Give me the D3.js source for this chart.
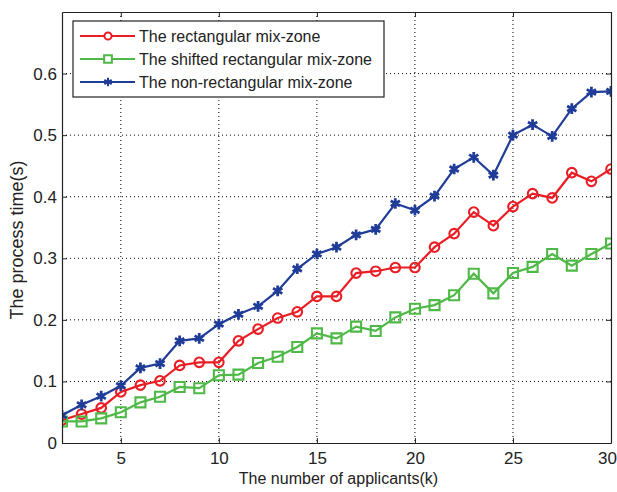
<!DOCTYPE html>
<html>
<head>
<meta charset="utf-8">
<script src="https://cdn.jsdelivr.net/npm/d3@7"></script>
<style>
  body { margin: 0; background: #fff; }
  svg { display: block; font-family: Arial, "Liberation Sans", sans-serif; }
</style>
</head>
<body>
<svg id="chart" width="617" height="492"></svg>
<script>
// number of applicants (k), first point sits left of the visible axis
var applicants = [1, 2, 3, 4, 5, 6, 7, 8, 9, 10, 11, 12, 13, 14, 15, 16, 17, 18, 19, 20, 21, 22, 23, 24, 25, 26, 27, 28, 29, 30];

var rect_zone = [0.027, 0.037, 0.047, 0.057, 0.083, 0.094, 0.101, 0.126, 0.131, 0.131, 0.166, 0.185, 0.203, 0.213, 0.238, 0.238, 0.276, 0.279, 0.285, 0.285,
                 0.318, 0.340, 0.375, 0.353, 0.384, 0.405, 0.398, 0.439, 0.425, 0.445];
var shifted_zone = [0.035, 0.035, 0.035, 0.040, 0.050, 0.066, 0.075, 0.091, 0.089, 0.110, 0.111, 0.130, 0.140, 0.156, 0.178, 0.170, 0.189, 0.182, 0.204, 0.218,
                    0.224, 0.240, 0.275, 0.243, 0.276, 0.286, 0.307, 0.288, 0.307, 0.324];
var nonrect_zone = [0.028, 0.045, 0.062, 0.076, 0.093, 0.122, 0.129, 0.166, 0.170, 0.193, 0.209, 0.222, 0.247, 0.283, 0.307, 0.318, 0.338, 0.347, 0.389, 0.378,
                    0.401, 0.445, 0.464, 0.435, 0.500, 0.517, 0.498, 0.543, 0.570, 0.571];

var x_ticks = [5, 10, 15, 20, 25, 30];
var y_ticks = [0, 0.1, 0.2, 0.3, 0.4, 0.5, 0.6];

var series_names = ["The rectangular mix-zone", "The shifted rectangular mix-zone", "The non-rectangular mix-zone"];
var series_colors = ["#ea1d25", "#4fb947", "#1f3c98"];

var margin = {left: 62, right: 6, top: 12, bottom: 49};

window.addEventListener('load', function ()
{
  draw_chart();
})

function marker_type(i)
{
  if (i == 0) return d3.symbolCircle;
  if (i == 1) return d3.symbolSquare;
  return d3.symbolAsterisk || d3.symbolCross;
}

function draw_chart()
{
  let svg = d3.select("#chart");
  let width = +svg.attr("width") - margin.left - margin.right;
  let height = +svg.attr("height") - margin.top - margin.bottom;

  let x = d3.scaleLinear().domain([2, 30]).range([0, width]);
  let y = d3.scaleLinear().domain([0, 0.7]).range([height, 0]);

  let g = svg.append("g").attr("transform", "translate(" + margin.left + "," + margin.top + ")");

  svg.append("defs").append("clipPath").attr("id", "plot-clip")
    .append("rect").attr("width", width).attr("height", height);

  // dotted grid
  g.append("g").selectAll("line").data(x_ticks.slice(0, -1)).enter().append("line")
    .attr("x1", d => x(d)).attr("x2", d => x(d))
    .attr("y1", 0).attr("y2", height)
    .attr("stroke", "#000").attr("stroke-width", 1).attr("stroke-dasharray", "1,3");
  g.append("g").selectAll("line").data(y_ticks.slice(1)).enter().append("line")
    .attr("x1", 0).attr("x2", width)
    .attr("y1", d => y(d)).attr("y2", d => y(d))
    .attr("stroke", "#000").attr("stroke-width", 1).attr("stroke-dasharray", "1,3");

  // series
  let all_series = [rect_zone, shifted_zone, nonrect_zone];
  let plot = g.append("g").attr("clip-path", "url(#plot-clip)");
  let line = d3.line().x(d => x(d[0])).y(d => y(d[1]));

  all_series.forEach(function (vals, i)
  {
    let pts = applicants.map((k, j) => [k, vals[j]]);
    plot.append("path").datum(pts)
      .attr("d", line)
      .attr("fill", "none")
      .attr("stroke", series_colors[i])
      .attr("stroke-width", 2.2);

    let sizes = [72, 100, 80];
    let sym = d3.symbol().type(marker_type(i)).size(sizes[i]);
    plot.append("g").selectAll("path").data(pts.filter(p => p[0] >= 2)).enter().append("path")
      .attr("transform", d => "translate(" + x(d[0]) + "," + y(d[1]) + ")")
      .attr("d", sym)
      .attr("fill", "none")
      .attr("stroke", series_colors[i])
      .attr("stroke-width", i == 2 ? 2.8 : 2.1);
  });

  // axes, ticks point inward like the box of the original
  let font_size = "17px";
  let xb = g.append("g").attr("transform", "translate(0," + height + ")")
    .call(d3.axisBottom(x).tickValues(x_ticks).tickSizeInner(-5).tickSizeOuter(0).tickPadding(9));
  // last label would run off the page
  xb.selectAll(".tick text").filter(d => d == 30).attr("dx", -4);
  let yl = g.append("g")
    .call(d3.axisLeft(y).tickValues(y_ticks).tickFormat(d3.format("")).tickSizeInner(-5).tickSizeOuter(0).tickPadding(5));
  g.append("g")
    .call(d3.axisTop(x).tickValues(x_ticks).tickFormat("").tickSizeInner(-5).tickSizeOuter(0));
  g.append("g").attr("transform", "translate(" + width + ",0)")
    .call(d3.axisRight(y).tickValues(y_ticks).tickFormat("").tickSizeInner(-5).tickSizeOuter(0));

  g.selectAll(".domain").attr("stroke", "#222").attr("stroke-width", 1.2);
  g.selectAll(".tick line").attr("stroke", "#222");
  g.selectAll(".tick text").attr("font-size", font_size).attr("font-family", "Arial, 'Liberation Sans', sans-serif").attr("fill", "#222");

  // axis titles
  svg.append("text")
    .attr("x", margin.left + x(16.1)).attr("y", 484)
    .attr("text-anchor", "middle")
    .attr("font-size", "16px").attr("fill", "#222")
    .text("The number of applicants(k)");
  svg.append("text")
    .attr("transform", "translate(23,240) rotate(-90)")
    .attr("text-anchor", "middle")
    .attr("font-size", "18px").attr("fill", "#222")
    .text("The process time(s)");

  // legend
  let legend = svg.append("g").attr("transform", "translate(73,21)");
  legend.append("rect").attr("width", 311).attr("height", 76)
    .attr("fill", "#fff").attr("stroke", "#222").attr("stroke-width", 1.2);
  let rows = legend.selectAll(".leg-row").data(series_names).enter().append("g")
    .attr("class", "leg-row")
    .attr("transform", (d, i) => "translate(0," + (15 + i * 23) + ")");
  rows.append("line").attr("x1", 7).attr("x2", 62).attr("y1", 0).attr("y2", 0)
    .attr("stroke", (d, i) => series_colors[i]).attr("stroke-width", 2);
  rows.append("path").attr("transform", "translate(35,0)")
    .attr("d", (d, i) => d3.symbol().type(marker_type(i)).size([40, 60, 50][i])())
    .attr("fill", "#fff")
    .attr("stroke", (d, i) => series_colors[i]).attr("stroke-width", 2);
  rows.append("text").attr("x", 66).attr("y", 6)
    .attr("font-size", "16px").attr("fill", "#222")
    .text(d => d);
}
</script>
</body>
</html>
